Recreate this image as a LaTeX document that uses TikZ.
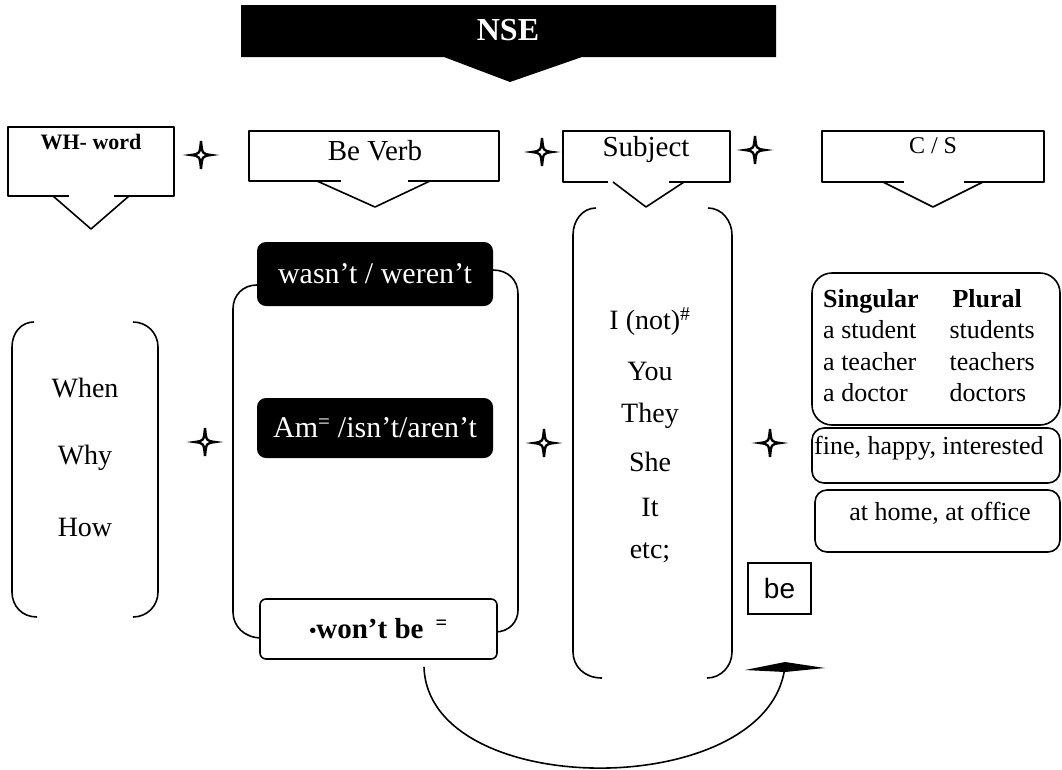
\documentclass[tikz,border=0pt]{standalone}
\usepackage{fontspec}
\setmainfont{Liberation Serif}
\newfontfamily\arialfont{Liberation Sans}
\usetikzlibrary{calc}
\newcommand\setfs[1]{\fontsize{#1}{#1}\selectfont}

\begin{document}
\begin{tikzpicture}[x=1pt,y=-1pt,
  frame/.style={line width=1.6pt, line join=round},
  word/.style={inner sep=0pt, font=\setfs{28}},
  darkbox/.style={fill=black, text=white, rounded corners=9pt, minimum width=236pt,
                  inner sep=0pt, font=\setfs{30}},
  roundbox/.style={draw, line width=1.6pt, rounded corners=#1, inner sep=0pt},
  twinkle/.pic={\draw[line width=2.4pt, line join=miter]
      (0,-14) .. controls (1.2,-1.2) .. (10,0) .. controls (1.2,1.2) .. (0,14)
      .. controls (-1.2,1.2) .. (-10,0) .. controls (-1.2,-1.2) .. (0,-14) -- cycle;}]

\path[use as bounding box, fill=white] (0,0) rectangle (1062,769);

% title banner with its downward pointer
\fill (241,5) -- (776,5) -- (776,57) -- (582,57) -- (510,82) -- (444,57) -- (241,57) -- cycle;
\node[font=\bfseries\setfs{32}, text=white, inner sep=0pt] (nse) at (508,30) {NSE};

% header callouts
\node[inner sep=0pt, font=\bfseries\setfs{22}] (wh) at (91,142) {WH- word};
\draw[frame] (69,196) -- (8,196) -- (8,127) -- (174,127) -- (174,196) -- (114,196);
\draw[frame] (53,196) -- (91,229) -- (129,196);

\node[inner sep=0pt, font=\setfs{29}] (bv) at (375,151) {Be Verb};
\draw[frame] (341,181) -- (249,181) -- (249,131) -- (499,131) -- (499,181) -- (408,181);
\draw[frame] (317,181) -- (375,207) -- (430,181);

\node[inner sep=0pt, font=\setfs{29}] (subj) at (646,150) {Subject};
\draw[frame] (608,182) -- (563,182) -- (563,131) -- (730,131) -- (730,182) -- (669,182);
\draw[frame] (613,182) -- (646,207) -- (684,182);

\node[inner sep=0pt, font=\setfs{24}] (cs) at (933,146) {C / S};
\draw[frame] (904,182) -- (822,182) -- (822,131) -- (1044,131) -- (1044,182) -- (964,182);
\draw[frame] (883,182) -- (933,207) -- (983,182);

% plus marks
\pic (p1) at (201,155) {twinkle};
\pic (p2) at (542,152) {twinkle};
\pic (p3) at (755,150) {twinkle};
\pic (p4) at (205,442) {twinkle};
\pic (p5) at (544,443) {twinkle};
\pic (p6) at (770,443) {twinkle};

% WH words in brackets
\draw[frame] (34,322) .. controls (21,322) and (12,333) .. (12,347) -- (12,592)
  .. controls (12,606) and (22,617) .. (37,617);
\draw[frame] (133,322) .. controls (147,322) and (158,333) .. (158,347) -- (158,592)
  .. controls (158,606) and (147,617) .. (133,617);
\node[word] (when) at (85,388) {When};
\node[word] (why) at (85,458) {Why};
\node[word] (how) at (85,527) {How};

% be verb column
\draw[frame] (257,285) .. controls (243,285) and (233,295) .. (233,309) -- (233,612)
  .. controls (233,626) and (244,638) .. (262,638);
\draw[frame] (493,270) .. controls (508,270) and (518,280) .. (518,294) -- (518,610)
  .. controls (518,622) and (509,632) .. (495,632);
\node[darkbox, minimum height=64pt] (wasnt) at (375,274) {wasn’t / weren’t};
\node[darkbox, minimum height=60pt] (amnt) at (375,428) {Am\textsuperscript{=} /isn’t/aren’t};
\node[roundbox=6pt, fill=white, minimum width=237pt, minimum height=60pt,
      font=\bfseries\setfs{29}] (wont) at (378.5,629)
      {\raisebox{1pt}{\setfs{20}•}won’t be\hspace{12pt}\textsuperscript{=}};

% subject column
\draw[frame] (596,208) .. controls (582,208) and (573,221) .. (573,235) -- (573,652)
  .. controls (573,666) and (584,678) .. (602,678);
\draw[frame] (708,208) .. controls (722,208) and (732,221) .. (732,235) -- (732,652)
  .. controls (732,666) and (721,678) .. (707,678);
\node[word] (si) at (650,322) {I (not)\textsuperscript{\#}};
\node[word] (syou) at (650,371) {You};
\node[word] (sthey) at (650,416) {They};
\node[word] (sshe) at (650,462) {She};
\node[word] (sit) at (650,507) {It};
\node[word] (setc) at (650,553) {etc;};

% complement column
\node[roundbox=20pt, minimum width=248pt, minimum height=152pt] (nouns) at (936,349) {};
\node[anchor=west, inner sep=0pt, font=\fontsize{26}{31.5}\selectfont] (nountab) at (823,348)
  {\begin{tabular}{@{}l@{\hspace{31pt}}l@{}}
     \textbf{Singular} & \hspace{3pt}\textbf{Plural}\\
     a student & students\\
     a teacher & teachers\\
     a doctor & doctors
   \end{tabular}};
\node[roundbox=12pt, minimum width=248pt, minimum height=55pt] (adj) at (936,455.5) {};
\node[anchor=west, inner sep=0pt, font=\setfs{26}] (adjt) at (814,448) {fine, happy, interested};
\node[roundbox=12pt, minimum width=245pt, minimum height=62pt] (place) at (937.5,521) {};
\node[inner sep=0pt, font=\setfs{26}] (placet) at (940,513) {at home, at office};

% the bare "be" and the arrow leading to it
\node[draw, line width=1.4pt, minimum width=63pt, minimum height=51pt, inner sep=0pt,
      font=\arialfont\setfs{28}] (be) at (779.5,588.5) {be};
\coordinate (arcstart) at ($(wont.south)+(45.5,7)$);
\coordinate (arcend) at (785,666);
\draw[frame] (arcstart) .. controls (428,802) and (770,802) .. (arcend);
\fill ($(arcend)+(-40,4)$) -- ($(arcend)+(0,-4)$) -- ($(arcend)+(40,2)$)
  -- ($(arcend)+(0,6)$) -- cycle;

\end{tikzpicture}
\end{document}
